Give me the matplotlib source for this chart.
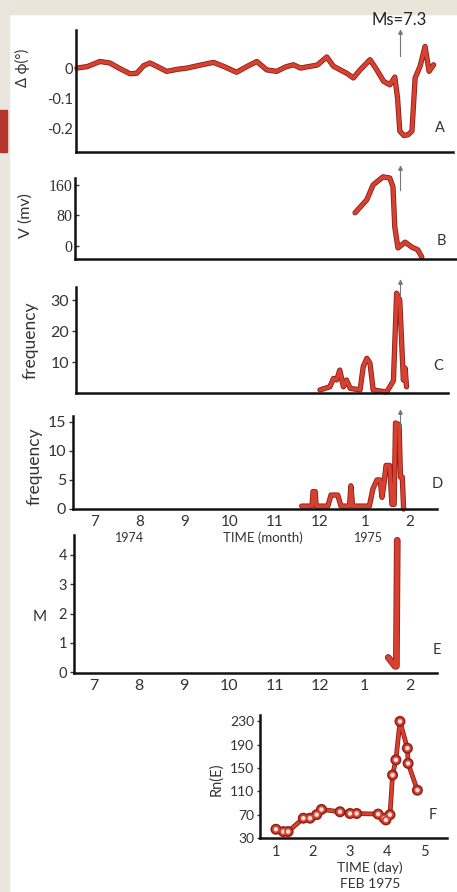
import matplotlib
matplotlib.use("Agg")
import matplotlib.pyplot as plt
import matplotlib.patheffects as pe
from matplotlib.patches import Rectangle

# ---- data (time in months: 7..12 = Jul..Dec 1974, 13 = Jan 1975, 14 = Feb 1975)
tilt_t = [6.62, 6.85, 7.13, 7.35, 7.55, 7.80, 7.95, 8.10, 8.24, 8.39, 8.61, 8.85, 9.06,
          9.30, 9.65, 9.90, 10.16, 10.40, 10.61, 10.83, 11.05, 11.25, 11.42, 11.58, 11.72,
          11.95, 12.16, 12.31, 12.60, 12.75, 12.90, 13.12, 13.27, 13.42, 13.56, 13.67,
          13.73, 13.78, 13.87, 13.97, 14.05, 14.12, 14.23, 14.34, 14.43, 14.53]
tilt_v = [0.0, 0.005, 0.022, 0.017, 0.0, -0.019, -0.017, 0.008, 0.017, 0.006, -0.011, -0.004,
          0.0, 0.008, 0.019, 0.004, -0.014, 0.006, 0.022, -0.006, -0.011, 0.004, 0.011, 0.0,
          0.004, 0.01, 0.037, 0.006, -0.017, -0.033, -0.006, 0.028, -0.006, -0.044, -0.056,
          -0.03, -0.1, -0.21, -0.225, -0.222, -0.21, -0.033, 0.006, 0.072, -0.011, 0.011]

volt_t = [12.79, 13.05, 13.19, 13.41, 13.56, 13.63, 13.67, 13.74, 13.90, 14.05, 14.18, 14.27]
volt_v = [87, 121, 160, 181, 178, 155, 50, -5, 10, -3, -10, -29]

freq_c_t = [12.01, 12.23, 12.31, 12.38, 12.45, 12.53, 12.60, 12.68, 12.90, 12.97, 13.05,
            13.12, 13.19, 13.49, 13.64, 13.71, 13.78, 13.86, 13.90, 13.93]
freq_c_v = [1, 2, 4.7, 4.2, 7.4, 2, 4.2, 1.5, 1, 8.5, 11.2, 9.6, 1, 0.3, 4, 32.2, 30, 4.2, 8, 2]

freq_d_t = [11.60, 11.83, 11.85, 11.90, 11.92, 12.18, 12.25, 12.40, 12.47, 12.66, 12.69,
            12.73, 13.10, 13.18, 13.27, 13.34, 13.38, 13.42, 13.47, 13.55, 13.60, 13.65,
            13.68, 13.76, 13.79, 13.83, 13.86]
freq_d_v = [0.5, 0.5, 3.0, 3.0, 0.5, 0.5, 2.4, 2.4, 0.5, 0.5, 4.0, 0.5, 0.5, 3.5, 5.0, 5.0,
            2.0, 4.0, 7.5, 7.5, 0.8, 0.8, 14.8, 14.5, 5.5, 5.5, 0.0]

mag_t = [13.52, 13.67, 13.70, 13.72]
mag_v = [0.5, 0.2, 0.2, 4.5]

radon_day = [1.0, 1.2, 1.33, 1.74, 1.92, 2.1, 2.23, 2.73, 3.0, 3.18, 3.76, 3.92, 3.97,
             4.08, 4.15, 4.24, 4.35, 4.55, 4.57, 4.82]
radon_v = [45, 41, 41, 64, 64, 70, 79, 75, 72, 72, 71, 64, 61, 70, 138, 164, 230, 184, 158, 112]

month_ticks = [7, 8, 9, 10, 11, 12, 13, 14]
month_labels = ["7", "8", "9", "10", "11", "12", "1", "2"]

W, H = 457, 892
RED = "#d8412f"
DARK = "#8a1f17"
TXT = "#333333"

plt.rcParams["font.family"] = ["Lato", "DejaVu Sans"]


def rect(l, t, r, b):
    return [l / W, 1 - b / H, (r - l) / W, (b - t) / H]


def px(x, y):
    return x / W, 1 - y / H


def style(ax, xlim, ylim, yticks, ylabels, size=10, serif=False):
    ax.set_xlim(*xlim)
    ax.set_ylim(*ylim)
    for s in ("top", "right"):
        ax.spines[s].set_visible(False)
    for s in ("left", "bottom"):
        ax.spines[s].set_linewidth(1.8)
        ax.spines[s].set_color("#111111")
    ax.set_yticks(yticks)
    ax.set_yticklabels(ylabels)
    ax.set_xticks([])
    ax.tick_params(axis="y", length=3, width=1, colors=TXT, labelsize=size, pad=2)
    if serif:
        for lab in ax.get_yticklabels():
            lab.set_family(["Liberation Serif", "DejaVu Serif"])
    ax.patch.set_alpha(0)


def red_line(ax, x, y, lw=2.6, **kw):
    ax.plot(x, y, color=RED, lw=lw, solid_joinstyle="round", solid_capstyle="round",
            path_effects=[pe.Stroke(linewidth=lw + 1.2, foreground=DARK), pe.Normal()],
            clip_on=False, **kw)


fig = plt.figure(figsize=(W / 100, H / 100), dpi=100)
fig.patch.set_facecolor("white")
fig.patches.append(Rectangle((0, 1 - 14 / H), 1, 14 / H, transform=fig.transFigure,
                             color="#ebe4da", zorder=0))
fig.patches.append(Rectangle((0, 0), 9 / W, 1, transform=fig.transFigure,
                             color="#e9e5df", zorder=0))
fig.patches.append(Rectangle((0, 1 - 152 / H), 7 / W, 42 / H, transform=fig.transFigure,
                             color="#b3352c", zorder=1))

# A: tilt
axA = fig.add_axes(rect(76, 30, 453, 152))
style(axA, (6.60, 14.96), (-0.28, 0.127), [0, -0.1, -0.2], ["0", "-0.1", "-0.2"], size=10.5)
axA.tick_params(axis="y", length=0)
red_line(axA, tilt_t, tilt_v)

# B: voltage
axB = fig.add_axes(rect(75, 178, 457, 259))
style(axB, (6.58, 15.05), (-34, 178), [0, 80, 160], ["0", "80", "160"], size=11.5, serif=True)
axB.tick_params(axis="y", direction="in")
red_line(axB, volt_t, volt_v)

# C: frequency
axC = fig.add_axes(rect(76, 287, 448, 393))
style(axC, (6.60, 14.85), (0, 34.2), [10, 20, 30], ["10", "20", "30"], size=11.5)
red_line(axC, freq_c_t, freq_c_v)

# D: frequency
axD = fig.add_axes(rect(73, 416, 437, 509))
style(axD, (6.53, 14.60), (0, 16.0), [0, 5, 10, 15], ["0", "5", "10", "15"], size=11.5)
red_line(axD, freq_d_t, freq_d_v)
axD.set_xticks(month_ticks)
axD.set_xticklabels(month_labels)
axD.tick_params(axis="x", length=0, colors=TXT, labelsize=11, pad=4)

# E: magnitude
axE = fig.add_axes(rect(74, 535, 437, 673))
style(axE, (6.56, 14.60), (-0.03, 4.68), [0, 1, 2, 3, 4], ["0", "1", "2", "3", "4"], size=10.5)
red_line(axE, mag_t, mag_v, lw=3.6)
axE.set_xticks(month_ticks)
axE.set_xticklabels(month_labels)
axE.tick_params(axis="x", length=0, colors=TXT, labelsize=11.5, pad=4)

# F: radon
axF = fig.add_axes(rect(260, 715, 447, 838))
style(axF, (0.57, 5.62), (30, 241), [30, 70, 110, 150, 190, 230],
      ["30", "70", "110", "150", "190", "230"], size=10)
axF.tick_params(axis="y", length=2)
red_line(axF, radon_day, radon_v, lw=2.2, marker="o", markersize=4.5,
         markerfacecolor="#fbe3df", markeredgecolor=RED, markeredgewidth=1.3)
axF.set_xticks([1, 2, 3, 4, 5])
axF.tick_params(axis="x", length=0, colors=TXT, labelsize=10.5, pad=5)

# axis labels and annotations
fig.text(*px(22, 68), "Δ ϕ(°)", rotation=90, ha="center", va="center", fontsize=10.5, color=TXT)
fig.text(*px(26, 216), "V (mv)", rotation=90, ha="center", va="center", fontsize=11.5, color=TXT)
fig.text(*px(31, 340), "frequency", rotation=90, ha="center", va="center", fontsize=12.5, color=TXT)
fig.text(*px(35, 466), "frequency", rotation=90, ha="center", va="center", fontsize=12.5, color=TXT)
fig.text(*px(40, 617), "M", ha="center", va="center", fontsize=11, color=TXT)
fig.text(*px(216, 779), "Rn(E)", rotation=90, ha="center", va="center", fontsize=10.5, color=TXT)

fig.text(*px(130, 538), "1974", ha="center", va="center", fontsize=9, color=TXT)
fig.text(*px(263, 538), "TIME (month)", ha="center", va="center", fontsize=9.5, color=TXT)
fig.text(*px(368, 538), "1975", ha="center", va="center", fontsize=9, color=TXT)
fig.text(*px(370, 868), "TIME (day)", ha="center", va="center", fontsize=10, color=TXT)
fig.text(*px(370, 884), "FEB 1975", ha="center", va="center", fontsize=10, color=TXT)

fig.text(*px(399, 20), "Ms=7.3", ha="center", va="center", fontsize=12, color="#222222")

for letter, (lx, ly) in zip("ABCDEF", [(440, 128), (441, 241), (438, 366),
                                      (437, 484), (437, 650), (433, 815)]):
    fig.text(*px(lx, ly), letter, ha="center", va="center", fontsize=10.5, color=TXT)

# quake arrows
for top, bottom in [(30, 56), (166, 190), (280, 296), (410, 426)]:
    fig.add_artist(plt.Line2D([400 / W, 400 / W], [1 - bottom / H, 1 - top / H],
                              color="#777777", lw=0.8, transform=fig.transFigure))
    fig.add_artist(plt.Line2D([400 / W], [1 - (top + 2) / H], marker="^", markersize=2.5,
                              color="#777777", transform=fig.transFigure))

fig.savefig("out.png", dpi=100, facecolor=fig.get_facecolor())
